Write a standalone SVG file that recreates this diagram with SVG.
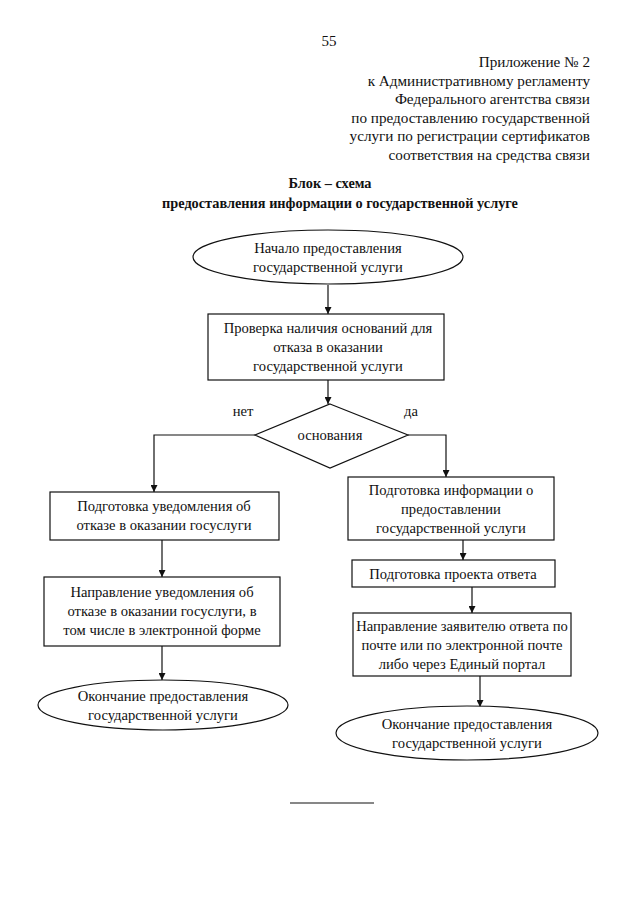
<svg xmlns="http://www.w3.org/2000/svg" width="640" height="905" viewBox="0 0 640 905">
<style>
text{font-family:"Liberation Serif","Times New Roman",serif;fill:#111;}
.t{font-size:14.6px;text-anchor:middle;}
.h{font-size:15.2px;text-anchor:end;}
.b{font-size:14.3px;font-weight:bold;text-anchor:middle;}
.s{fill:#fff;stroke:#111;stroke-width:1.2;}
.c{fill:none;stroke:#111;stroke-width:1.2;}
</style>
<defs>
<marker id="a" viewBox="0 0 10 10" refX="10" refY="5" markerWidth="7" markerHeight="7" orient="auto" markerUnits="userSpaceOnUse">
<path d="M0,0 L10,5 L0,10 z" fill="#111"/>
</marker>
</defs>
<rect width="640" height="905" fill="#fff"/>
<text x="329" y="46" style="font-size:15px;text-anchor:middle">55</text>
<text class="h" x="590" y="67">Приложение № 2</text>
<text class="h" x="590" y="86">к Административному регламенту</text>
<text class="h" x="590" y="104">Федерального агентства связи</text>
<text class="h" x="590" y="123">по предоставлению государственной</text>
<text class="h" x="590" y="141">услуги по регистрации сертификатов</text>
<text class="h" x="590" y="160">соответствия на средства связи</text>
<text class="b" x="330" y="188">Блок – схема</text>
<text class="b" x="340" y="208">предоставления информации о государственной услуге</text>

<g id="connectors">
<line class="c" x1="328" y1="285" x2="328" y2="314" marker-end="url(#a)"/>
<line class="c" x1="328" y1="380" x2="328" y2="404" marker-end="url(#a)"/>
<polyline class="c" points="255,435 154,435 154,492" marker-end="url(#a)"/>
<polyline class="c" points="408,435 446,435 446,477" marker-end="url(#a)"/>
<line class="c" x1="162" y1="540" x2="162" y2="577" marker-end="url(#a)"/>
<line class="c" x1="162" y1="646" x2="162" y2="680" marker-end="url(#a)"/>
<line class="c" x1="463" y1="540" x2="463" y2="560" marker-end="url(#a)"/>
<line class="c" x1="472" y1="587" x2="472" y2="613" marker-end="url(#a)"/>
<line class="c" x1="480" y1="676" x2="480" y2="707" marker-end="url(#a)"/>
<text class="t" x="243" y="416">нет</text>
<text class="t" x="411" y="416">да</text>
</g>

<g id="start">
<ellipse class="s" cx="328" cy="257" rx="135" ry="27"/>
<text class="t" x="328" y="253">Начало предоставления</text>
<text class="t" x="328" y="272">государственной услуги</text>
</g>
<g id="check">
<rect class="s" x="208" y="314" width="236" height="66"/>
<text class="t" x="328" y="333">Проверка наличия оснований для</text>
<text class="t" x="328" y="352">отказа в оказании</text>
<text class="t" x="328" y="371">государственной услуги</text>
</g>
<g id="decision">
<polygon class="s" points="330,404 408,435 330,468 255,435"/>
<text class="t" x="330" y="440">основания</text>
</g>
<g id="left1">
<rect class="s" x="50" y="492" width="229" height="48"/>
<text class="t" x="164" y="511">Подготовка уведомления об</text>
<text class="t" x="164" y="530">отказе в оказании госуслуги</text>
</g>
<g id="left2">
<rect class="s" x="44" y="577" width="236" height="69"/>
<text class="t" x="162" y="597">Направление уведомления об</text>
<text class="t" x="162" y="616">отказе в оказании госуслуги, в</text>
<text class="t" x="162" y="635">том числе в электронной форме</text>
</g>
<g id="end-left">
<ellipse class="s" cx="163" cy="705" rx="125" ry="25"/>
<text class="t" x="163" y="701">Окончание предоставления</text>
<text class="t" x="163" y="720">государственной услуги</text>
</g>
<g id="right1">
<rect class="s" x="348" y="477" width="206" height="63"/>
<text class="t" x="451" y="495">Подготовка информации о</text>
<text class="t" x="451" y="514">предоставлении</text>
<text class="t" x="451" y="533">государственной услуги</text>
</g>
<g id="right2">
<rect class="s" x="352" y="560" width="203" height="27"/>
<text class="t" x="453" y="579">Подготовка проекта ответа</text>
</g>
<g id="right3">
<rect class="s" x="353" y="613" width="218" height="63"/>
<text class="t" x="462" y="631">Направление заявителю ответа по</text>
<text class="t" x="462" y="650">почте или по электронной почте</text>
<text class="t" x="462" y="669">либо через Единый портал</text>
</g>
<g id="end-right">
<ellipse class="s" cx="467" cy="733" rx="131" ry="27"/>
<text class="t" x="467" y="729">Окончание предоставления</text>
<text class="t" x="467" y="748">государственной услуги</text>
</g>
<line x1="290" y1="803" x2="374" y2="803" stroke="#111" stroke-width="1.2"/>
</svg>
